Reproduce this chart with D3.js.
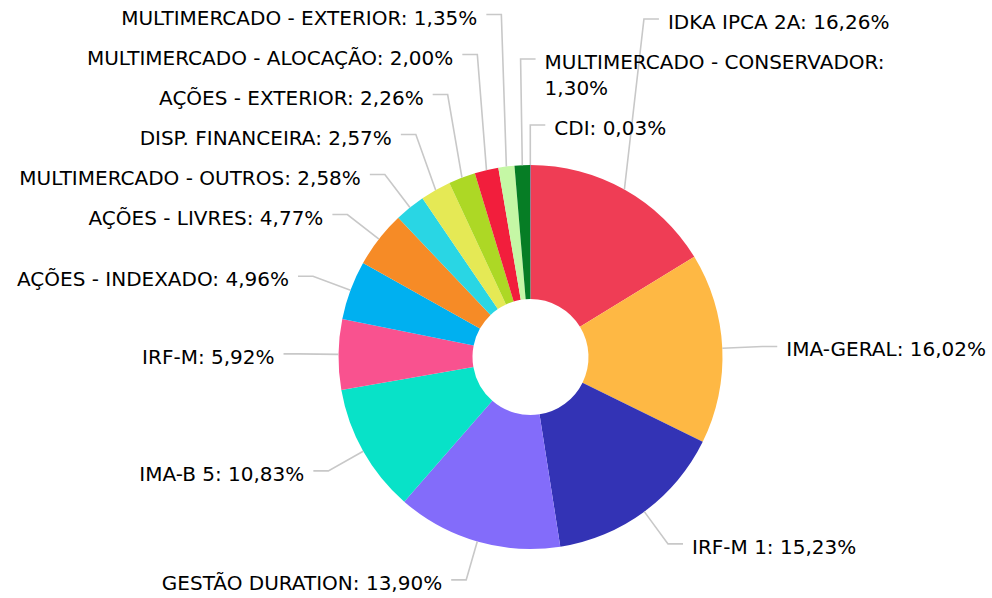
<!DOCTYPE html>
<html>
<head>
<meta charset="utf-8">
<script src="https://cdn.jsdelivr.net/npm/d3@7"></script>
<style>
  html, body { margin: 0; padding: 0; background: #fff; }
  svg { display: block; }
  .lbl { font-family: "DejaVu Sans", sans-serif; font-size: 20px; fill: #000; }
</style>
</head>
<body>
<div id="chart"></div>
<script>
'use strict';

/*** Data */
const categories = [
  "IDKA IPCA 2A", "IMA-GERAL", "IRF-M 1", "GESTÃO DURATION", "IMA-B 5",
  "IRF-M", "AÇÕES - INDEXADO", "AÇÕES - LIVRES", "MULTIMERCADO - OUTROS",
  "DISP. FINANCEIRA", "AÇÕES - EXTERIOR", "MULTIMERCADO - ALOCAÇÃO",
  "MULTIMERCADO - EXTERIOR", "MULTIMERCADO - CONSERVADOR", "CDI"
];
const shares = [16.26, 16.02, 15.23, 13.90, 10.83, 5.92, 4.96, 4.77, 2.58, 2.57, 2.26, 2.00, 1.35, 1.30, 0.03];
const sliceColors = [
  "#ef3d55", "#feb844", "#3333b5", "#836cfa", "#08e2c8",
  "#f9528f", "#00b0f0", "#f68b26", "#29d6e4", "#e5e955",
  "#add825", "#f21e3c", "#c5f7a5", "#067d25", "#1f4e9c"
];

/*** Chart sizes */
const w = 992;
const h = 598;
const cx = 530.5, cy = 357;
const outerR = 192, innerR = 58;
const bendR = outerR + 40;   // where the leader line bends
const lineH = 26;            // line height for label text
const labelPad = 14;         // extra vertical room per label
const maxLabelW = 400;       // labels wider than this wrap

const fmt = (v) => v.toFixed(2).replace(".", ",") + "%";

const svg = d3.select("#chart").append("svg")
  .attr("width", w)
  .attr("height", h);

const pie = d3.pie().sort(null).value(d => d)(shares);
const arc = d3.arc().innerRadius(innerR).outerRadius(outerR);

/** Slices */
svg.append("g")
  .attr("transform", `translate(${cx},${cy})`)
  .selectAll("path")
  .data(pie)
  .join("path")
  .attr("d", arc)
  .attr("fill", (d, i) => sliceColors[i]);

/** Labels: measure, wrap, then stack per side */
const items = pie.map((a, i) => {
  const mid = (a.startAngle + a.endAngle) / 2;
  return {
    i, mid,
    signed: mid > Math.PI ? mid - 2 * Math.PI : mid,
    text: categories[i] + ": " + fmt(shares[i]),
    right: Math.sin(mid) >= -0.05,
    sx: cx + outerR * Math.sin(mid), sy: cy - outerR * Math.cos(mid),
    bx: cx + bendR * Math.sin(mid), ny: cy - bendR * Math.cos(mid)
  };
});

const measure = svg.append("text").attr("class", "lbl");
const textW = (s) => { measure.text(s); return measure.node().getComputedTextLength(); };

items.forEach(d => {
  const tx = d.right ? d.bx + 24 : d.bx - 24;
  const avail = Math.min(maxLabelW, d.right ? w - tx : tx - 5);
  const words = d.text.split(" ");
  const lines = [];
  let cur = "";
  words.forEach(wd => {
    const test = cur ? cur + " " + wd : wd;
    if (cur && textW(test) > avail) { lines.push(cur); cur = wd; }
    else cur = test;
  });
  lines.push(cur);
  d.lines = lines;
  d.tx = tx;
  d.hgt = labelPad + lineH * lines.length;
});
measure.remove();

// right column: first slice heads it, the rest follow by angle; left column by natural height
const rightCol = items.filter(d => d.right)
  .sort((a, b) => (a.i === 0 ? -1 : b.i === 0 ? 1 : a.signed - b.signed));
const leftCol = items.filter(d => !d.right).sort((a, b) => a.ny - b.ny);

[rightCol, leftCol].forEach(col => {
  // push labels upward from the bottom so they do not overlap
  for (let k = col.length - 1; k >= 0; k--) {
    const below = col[k + 1];
    col[k].by = below ? Math.min(col[k].ny, below.by - col[k].hgt) : col[k].ny;
  }
});

const lab = svg.append("g");

lab.selectAll("path")
  .data(items)
  .join("path")
  .attr("d", d => {
    const ex = d.right ? d.bx + 15 : d.bx - 15;
    return `M${d.sx},${d.sy}L${d.bx},${d.by}L${ex},${d.by}`;
  })
  .attr("fill", "none")
  .attr("stroke", "#c8c8c8")
  .attr("stroke-width", 1.6);

lab.selectAll("text")
  .data(items)
  .join("text")
  .attr("class", "lbl")
  .attr("text-anchor", d => d.right ? "start" : "end")
  .attr("x", d => d.tx)
  .attr("y", d => d.by + 10)
  .selectAll("tspan")
  .data(d => d.lines.map((t, k) => ({ t, k, x: d.tx })))
  .join("tspan")
  .attr("x", t => t.x)
  .attr("dy", t => t.k === 0 ? 0 : lineH)
  .text(t => t.t);
</script>
</body>
</html>
